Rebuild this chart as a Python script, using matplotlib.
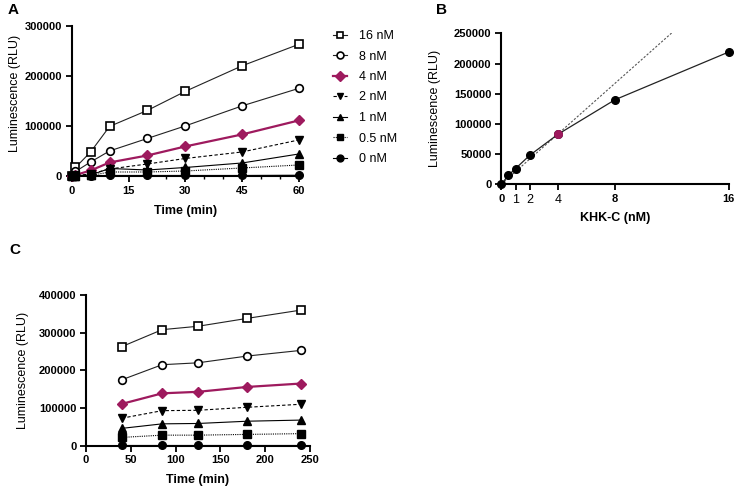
import numpy as np
import matplotlib
matplotlib.use("Agg")
import matplotlib.pyplot as plt

plt.rcParams['font.family'] = ['Liberation Sans', 'DejaVu Sans']

# panel A: luminescence over the first hour
time_a = [0, 1, 5, 10, 20, 30, 45, 60]
a_16 = [0, 17000, 48000, 99000, 131000, 169000, 220000, 263000]
a_8 = [0, 9000, 28000, 50000, 75000, 100000, 140000, 175000]
a_4 = [0, 2000, 11000, 27000, 41000, 59000, 83000, 111000]
a_2 = [0, 1000, 4000, 14000, 24000, 35000, 48000, 72000]
a_1 = [0, 500, 2000, 15000, 12000, 17000, 26000, 44000]
a_05 = [0, 300, 1000, 8000, 8000, 10000, 16000, 22000]
a_0 = [0, 0, 0, 1000, 1000, 1000, 1000, 1500]

# panel B: signal vs enzyme concentration
conc_b = [0, 0.5, 1, 2, 4, 8, 16]
lum_b = [0, 15000, 26000, 48000, 83000, 140000, 219000]
fit_slope = 20900
fit_end = 12

# panel C: longer incubation
time_c = [40, 85, 125, 180, 240]
c_16 = [263000, 308000, 317000, 338000, 360000]
c_8 = [175000, 215000, 220000, 238000, 253000]
c_4 = [111000, 139000, 143000, 156000, 165000]
c_2 = [73000, 93000, 94000, 102000, 110000]
c_1 = [46000, 58000, 59000, 65000, 68000]
c_05 = [22000, 28000, 28000, 30000, 32000]
c_0 = [1000, 1000, 1000, 1000, 1000]

labels = ['16 nM', '8 nM', '4 nM', '2 nM', '1 nM', '0.5 nM', '0 nM']
magenta = '#9E1A5E'

styles = [
    dict(marker='s', mfc='white', mec='black', color='#222222', ls='-', lw=0.8, ms=5.5, mew=1.2),
    dict(marker='o', mfc='white', mec='black', color='#222222', ls='-', lw=0.8, ms=5.5, mew=1.2),
    dict(marker='D', mfc=magenta, mec=magenta, color=magenta, ls='-', lw=1.6, ms=5.5),
    dict(marker='v', mfc='black', mec='black', color='black', ls=(0, (3, 2)), lw=0.8, ms=5.5),
    dict(marker='^', mfc='black', mec='black', color='black', ls='-', lw=0.8, ms=5.5),
    dict(marker='s', mfc='black', mec='black', color='black', ls=(0, (1, 1)), lw=0.8, ms=5.5),
    dict(marker='o', mfc='black', mec='black', color='black', ls='-', lw=0.8, ms=5.5),
]

W, H = 736, 487
fig = plt.figure(figsize=(W / 100, H / 100), dpi=100)


def px_axes(left, right, bottom, top):
    return fig.add_axes([left / W, 1 - bottom / H, (right - left) / W, (bottom - top) / H])


def style_axes(ax):
    for s in ['top', 'right']:
        ax.spines[s].set_visible(False)
    for s in ['left', 'bottom']:
        ax.spines[s].set_linewidth(1.5)
    ax.tick_params(which='major', direction='out', length=4, width=1.3, labelsize=8, pad=3)
    ax.tick_params(which='minor', direction='out', length=2.5, width=1.0)
    for t in ax.get_xticklabels() + ax.get_yticklabels():
        t.set_fontweight('bold')


# ---- A ----
axA = px_axes(71.7, 299, 176, 25.7)
series_a = [a_16, a_8, a_4, a_2, a_1, a_05, a_0]
handles = []
for vals, st, lab in zip(series_a, styles, labels):
    h, = axA.plot(time_a, vals, label=lab, clip_on=False, zorder=3, **st)
    handles.append(h)
axA.set_xlim(0, 60)
axA.set_ylim(0, 300000)
axA.set_xticks([0, 15, 30, 45, 60])
axA.set_xticks(np.arange(0, 61, 5), minor=True)
axA.set_yticks([0, 100000, 200000, 300000])
style_axes(axA)
axA.set_xlabel('Time (min)', fontsize=9, fontweight='bold')
axA.xaxis.set_label_coords(0.5, -0.19)
axA.set_ylabel('Luminescence (RLU)', fontsize=9)
axA.yaxis.set_label_coords(-0.223, 0.55)

fig.legend(handles=handles, loc='upper left', bbox_to_anchor=(333 / W, 1 - 30 / H),
           frameon=False, fontsize=9, handlelength=1.1, handletextpad=1.0,
           labelspacing=0.68, borderpad=0, borderaxespad=0, markerscale=0.9)

# ---- B ----
axB = px_axes(501.3, 728.7, 184.3, 33.3)
axB.plot([0, fit_end], [0, fit_slope * fit_end], color='#555555', ls=(0, (2, 1.5)), lw=0.8, zorder=2)
axB.plot(conc_b, lum_b, color='#222222', lw=0.9, marker='o', ms=5.5, mfc='black', mec='black',
         clip_on=False, zorder=3)
i4 = conc_b.index(4)
axB.plot([conc_b[i4]], [lum_b[i4]], ls='none', marker='o', ms=5.5, mfc=magenta, mec=magenta,
         clip_on=False, zorder=4)
axB.set_xlim(0, 16)
axB.set_ylim(0, 250000)
axB.set_xticks([0, 1, 2, 4, 8, 16])
axB.set_yticks(np.arange(0, 250001, 50000))
style_axes(axB)
for t in axB.get_xticklabels():
    if t.get_text() in ('1', '2', '4'):
        t.set_fontweight('normal')
        t.set_fontsize(9)
axB.set_xlabel('KHK-C (nM)', fontsize=9, fontweight='bold')
axB.xaxis.set_label_coords(0.5, -0.185)
axB.set_ylabel('Luminescence (RLU)', fontsize=9)
axB.yaxis.set_label_coords(-0.265, 0.5)

# ---- C ----
axC = px_axes(86, 310, 445.7, 295)
series_c = [c_16, c_8, c_4, c_2, c_1, c_05, c_0]
for vals, st in zip(series_c, styles):
    axC.plot(time_c, vals, clip_on=False, zorder=3, **st)
axC.set_xlim(0, 250)
axC.set_ylim(0, 400000)
axC.set_xticks(np.arange(0, 251, 50))
axC.set_yticks(np.arange(0, 400001, 100000))
style_axes(axC)
axC.set_xlabel('Time (min)', fontsize=9, fontweight='bold')
axC.xaxis.set_label_coords(0.5, -0.185)
axC.set_ylabel('Luminescence (RLU)', fontsize=9)
axC.yaxis.set_label_coords(-0.254, 0.5)

# panel letters
fig.text(8 / W, 1 - 10 / H, 'A', fontsize=11, fontweight='bold', va='center', ha='left')
fig.text(436 / W, 1 - 10 / H, 'B', fontsize=11, fontweight='bold', va='center', ha='left')
fig.text(9 / W, 1 - 250 / H, 'C', fontsize=11, fontweight='bold', va='center', ha='left')

fig.savefig('out.png', dpi=100)
